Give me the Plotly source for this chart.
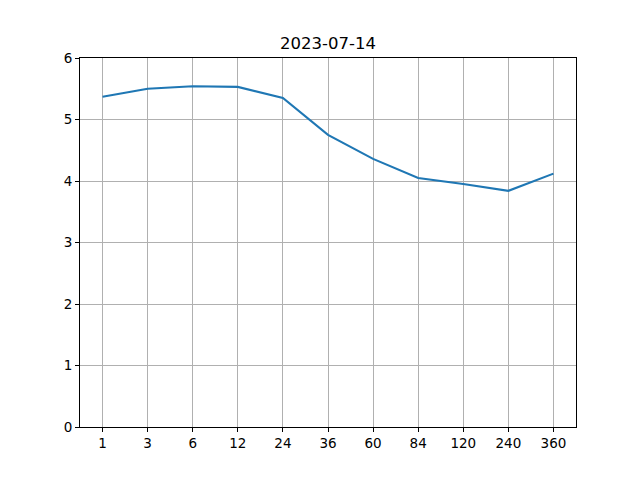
import plotly.graph_objects as go

categories = ["1", "3", "6", "12", "24", "36", "60", "84", "120", "240", "360"]
values = [5.37, 5.50, 5.54, 5.53, 5.35, 4.75, 4.36, 4.05, 3.95, 3.84, 4.12]
title_text = "2023-07-14"

fig = go.Figure()
fig.add_trace(go.Scatter(x=categories, y=values, mode="lines",
                         line=dict(color="#1f77b4", width=2.1)))

axis_common = dict(showline=True, linecolor="black", linewidth=1.1, mirror=True,
                   ticks="outside", ticklen=4, tickwidth=1, tickcolor="black",
                   showgrid=True, gridcolor="#b0b0b0", gridwidth=1,
                   zeroline=False,
                   tickfont=dict(family="DejaVu Sans", size=13.5, color="black"))

fig.update_layout(
    width=640, height=480,
    paper_bgcolor="white", plot_bgcolor="white",
    margin=dict(l=80, r=64, t=58, b=53),
    showlegend=False,
    title=dict(text=title_text, x=0.5, xanchor="center", xref="paper",
               y=1 - 43 / 480, yref="container", yanchor="middle",
               font=dict(family="DejaVu Sans", size=16.5, color="black")),
    xaxis=dict(type="category", range=[-0.5, 10.5], **axis_common),
    yaxis=dict(range=[0, 6], tickvals=[0, 1, 2, 3, 4, 5, 6], **axis_common),
)

fig.write_html("out.html", config={"displayModeBar": False},
               post_script="document.body.style.margin='0';")
